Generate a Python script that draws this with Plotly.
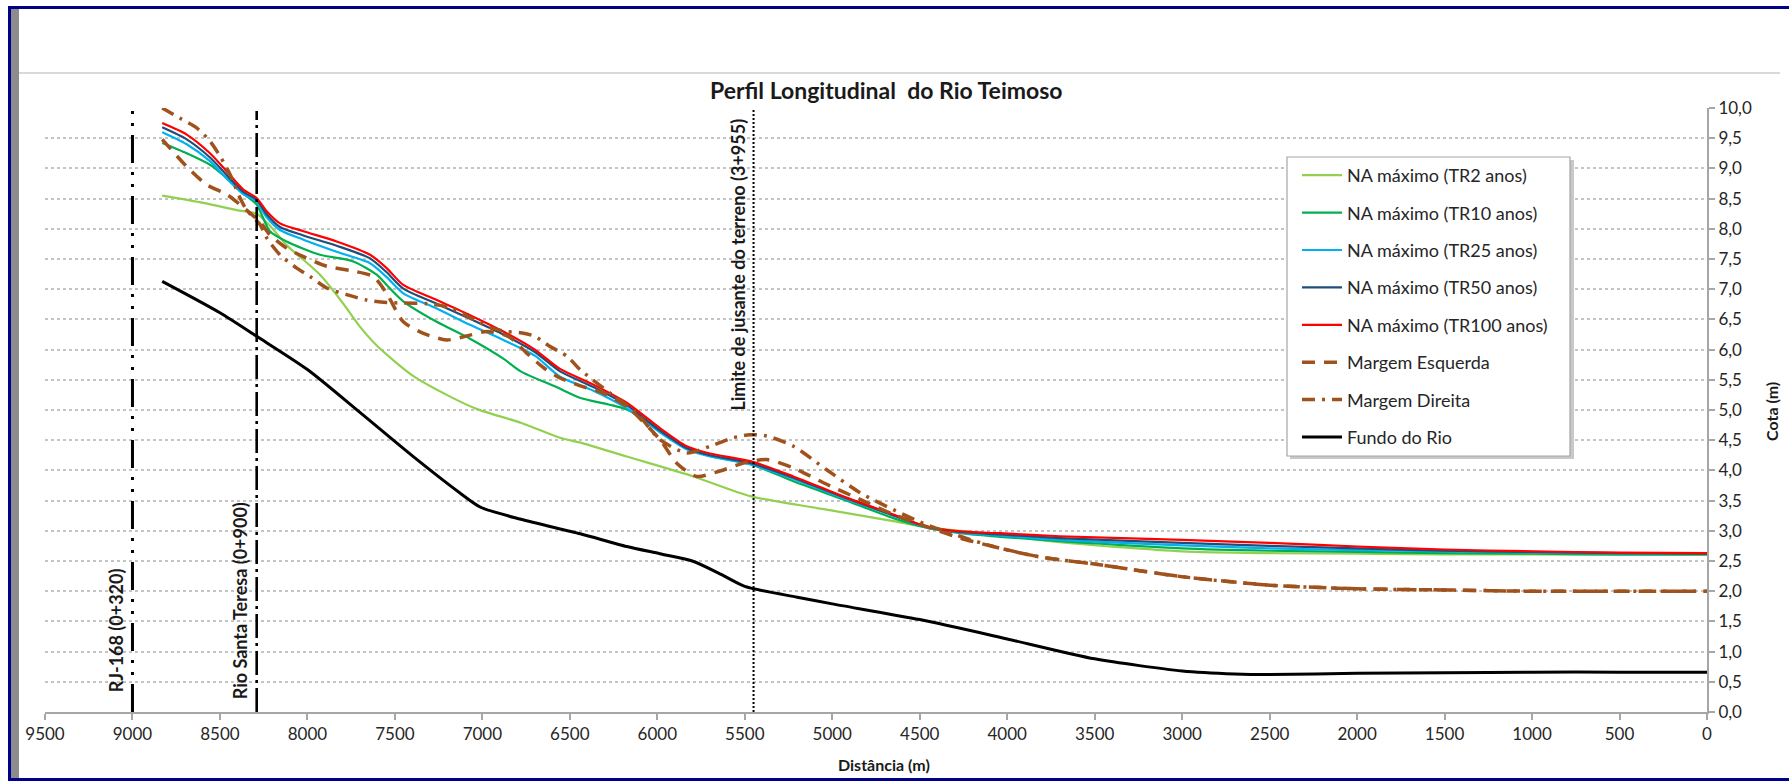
import plotly.graph_objects as go

# ---------------- data (distância em m, cota em m) ----------------
dist_fundo = [8830, 8500, 8290, 8000, 7700, 7400, 7130, 7010, 6780, 6440, 6175, 5985,
              5800, 5650, 5500, 5200, 5000, 4500, 4000, 3500, 3000, 2700, 2500,
              2000, 1500, 1000, 500, 0]
cota_fundo = [7.13, 6.61, 6.22, 5.67, 4.96, 4.24, 3.63, 3.39, 3.19, 2.95, 2.74, 2.62,
              2.50, 2.30, 2.08, 1.90, 1.79, 1.53, 1.21, 0.88, 0.68, 0.63, 0.62,
              0.64, 0.65, 0.66, 0.66, 0.66]

dist_tr = [8830, 8690, 8557, 8461, 8366, 8290, 8233, 8157, 8023, 7833, 7642, 7547, 7452,
           7261, 7071, 6880, 6700, 6556, 6365, 6175, 5985, 5832, 5699, 5464, 5222, 4937,
           4651, 4461, 4270, 4041, 3700, 3000, 2500, 2000, 1500, 1000, 500, 0]
cota_tr100 = [9.75, 9.56, 9.25, 8.95, 8.65, 8.51, 8.29, 8.09, 7.96, 7.79, 7.57, 7.35, 7.07,
              6.82, 6.57, 6.30, 6.00, 5.68, 5.42, 5.12, 4.70, 4.40, 4.28, 4.15, 3.90, 3.57,
              3.27, 3.07, 2.99, 2.96, 2.91, 2.85, 2.80, 2.74, 2.69, 2.66, 2.64, 2.63]
cota_tr50 = [9.68, 9.48, 9.18, 8.89, 8.61, 8.48, 8.24, 8.03, 7.89, 7.72, 7.51, 7.28, 7.01,
             6.76, 6.51, 6.25, 5.96, 5.64, 5.38, 5.08, 4.66, 4.37, 4.25, 4.12, 3.88, 3.56,
             3.26, 3.07, 2.98, 2.94, 2.88, 2.80, 2.75, 2.71, 2.67, 2.65, 2.63, 2.62]
cota_tr25 = [9.60, 9.40, 9.12, 8.83, 8.57, 8.45, 8.19, 7.98, 7.82, 7.62, 7.43, 7.20, 6.93,
             6.68, 6.41, 6.16, 5.90, 5.55, 5.32, 5.03, 4.63, 4.35, 4.23, 4.10, 3.86, 3.54,
             3.25, 3.06, 2.97, 2.92, 2.85, 2.76, 2.71, 2.68, 2.66, 2.64, 2.62, 2.62]

dist_tr10 = [8830, 8690, 8557, 8461, 8347, 8290, 8214, 8119, 7928, 7738, 7604, 7547, 7452,
             7261, 7071, 6880, 6781, 6577, 6439, 6175, 5985, 5832, 5699, 5464, 5222, 4937,
             4651, 4461, 4270, 4041, 3700, 3000, 2500, 2000, 1500, 1000, 500, 0]
cota_tr10 = [9.42, 9.25, 9.06, 8.84, 8.54, 8.40, 7.96, 7.79, 7.57, 7.46, 7.24, 7.07, 6.80,
             6.46, 6.18, 5.85, 5.64, 5.38, 5.20, 5.01, 4.68, 4.37, 4.24, 4.10, 3.82, 3.52,
             3.21, 3.05, 2.96, 2.90, 2.83, 2.71, 2.67, 2.65, 2.63, 2.62, 2.61, 2.61]

dist_tr2 = [8830, 8595, 8404, 8290, 8214, 8119, 7928, 7800, 7700, 7598, 7394, 7190, 7026,
            6781, 6556, 6439, 6175, 5794, 5464, 5032, 4651, 4461, 4000, 3700, 3000, 2500,
            2000, 1500, 1000, 500, 0]
cota_tr2 = [8.55, 8.43, 8.31, 8.25, 8.05, 7.73, 7.24, 6.78, 6.38, 6.05, 5.56, 5.23, 5.01,
            4.79, 4.54, 4.46, 4.23, 3.90, 3.57, 3.35, 3.16, 3.06, 2.92, 2.81, 2.66, 2.63,
            2.62, 2.61, 2.61, 2.60, 2.60]

dist_esq = [8830, 8690, 8576, 8461, 8385, 8328, 8271, 8214, 8119, 8023, 7890, 7738, 7623,
            7547, 7452, 7337, 7204, 7071, 6975, 6850, 6750, 6650, 6556, 6440, 6308, 6175,
            5985, 5889, 5775, 5642, 5508, 5375, 5222, 5032, 4841, 4651, 4461, 4270, 4080,
            3800, 3500, 3000, 2500, 2000, 1500, 1000, 500, 0]
cota_esq = [9.48, 9.03, 8.73, 8.57, 8.40, 8.26, 8.12, 7.90, 7.68, 7.54, 7.38, 7.30, 7.21,
            6.93, 6.46, 6.27, 6.16, 6.24, 6.30, 6.22, 5.95, 5.70, 5.53, 5.40, 5.28, 5.06,
            4.51, 4.12, 3.90, 3.99, 4.12, 4.18, 4.04, 3.77, 3.52, 3.27, 3.07, 2.88, 2.74,
            2.56, 2.45, 2.24, 2.10, 2.04, 2.02, 2.00, 2.00, 2.00]

dist_dir = [8830, 8728, 8633, 8557, 8499, 8442, 8385, 8347, 8271, 8233, 8157, 8061, 7985,
            7890, 7776, 7661, 7547, 7452, 7315, 7190, 7050, 6950, 6863, 6781, 6700, 6618,
            6516, 6442, 6270, 6118, 5985, 5832, 5699, 5565, 5470, 5375, 5222, 5032, 4841,
            4651, 4461, 4270, 4080, 3800, 3500, 3000, 2500, 2000, 1500, 1000, 500, 0]
cota_dir = [10.0, 9.83, 9.67, 9.45, 9.20, 8.90, 8.51, 8.31, 8.07, 7.85, 7.57, 7.35, 7.21,
            7.02, 6.91, 6.82, 6.78, 6.77, 6.76, 6.70, 6.50, 6.36, 6.30, 6.28, 6.22, 6.06,
            5.89, 5.67, 5.28, 4.95, 4.51, 4.29, 4.40, 4.54, 4.59, 4.57, 4.40, 4.01, 3.63,
            3.35, 3.10, 2.91, 2.74, 2.56, 2.45, 2.24, 2.10, 2.04, 2.02, 2.00, 2.00, 2.00]

# marcos ao longo do rio
marco_dist = [9000, 8290, 5450]
marco_topo = [9.95, 9.95, 10.0]
marco_nome = ["RJ-168 (0+320)", "Rio Santa Teresa (0+900)",
              "Limite de jusante do terreno (3+955)"]

x_ticks = list(range(0, 10000, 500))
y_ticks = [i * 0.5 for i in range(21)]

# ---------------- layout geometry ----------------
W, H = 1789, 783
ML, MR, MT, MB = 45, 82, 108, 71
PW = W - ML - MR
PH = H - MT - MB


def px_x(px):
    return (px - ML) / PW


def px_y(py):
    return (H - MB - py) / PH


FONT = "Lato, 'Open Sans', sans-serif"
NAVY = "#00008B"
BROWN = "#A0521C"
TXT = "#1a1a1a"

fig = go.Figure()

series = [
    ("NA máximo (TR2 anos)", dist_tr2, cota_tr2, dict(color="#92D050", width=2.2)),
    ("NA máximo (TR10 anos)", dist_tr10, cota_tr10, dict(color="#00B050", width=2.2)),
    ("NA máximo (TR25 anos)", dist_tr, cota_tr25, dict(color="#00B0F0", width=2.2)),
    ("NA máximo (TR50 anos)", dist_tr, cota_tr50, dict(color="#1F4E79", width=2.2)),
    ("NA máximo (TR100 anos)", dist_tr, cota_tr100, dict(color="#FF0000", width=2.2)),
    ("Margem Esquerda", dist_esq, cota_esq, dict(color=BROWN, width=3.5, dash="13px,9px")),
    ("Margem Direita", dist_dir, cota_dir,
     dict(color=BROWN, width=3.5, dash="13px,7px,3px,7px")),
    ("Fundo do Rio", dist_fundo, cota_fundo, dict(color="black", width=3)),
]

for i, (name, xs, ys, line) in enumerate(series):
    fig.add_trace(go.Scatter(
        x=xs, y=ys, name=name, mode="lines",
        line=dict(shape="spline", smoothing=0.7, **line),
        legendgroup=f"g{i}", hoverinfo="skip",
    ))

# linhas verticais dos marcos
marco_dash = ["28px,9px,3px,9px,3px,9px", "24px,5px,3px,5px", "2px,2px"]
marco_width = [3, 2.6, 2]
for xd, top, dash, wd in zip(marco_dist, marco_topo, marco_dash, marco_width):
    fig.add_trace(go.Scatter(
        x=[xd, xd], y=[0, top], mode="lines", showlegend=False, hoverinfo="skip",
        line=dict(color="black", width=wd, dash=dash),
    ))

annotations = [
    dict(text="<b>Perfil Longitudinal\u00a0 do Rio Teimoso</b>", xref="paper", yref="paper",
         x=px_x(886), y=px_y(90), showarrow=False, font=dict(size=23, color=TXT),
         xanchor="center", yanchor="middle"),
    dict(text="<b>Distância (m)</b>", xref="paper", yref="paper",
         x=px_x(884), y=px_y(764), showarrow=False, font=dict(size=16, color=TXT),
         xanchor="center", yanchor="middle"),
    dict(text="<b>Cota (m)</b>", xref="paper", yref="paper", textangle=-90,
         x=px_x(1771), y=px_y(412), showarrow=False, font=dict(size=16, color=TXT),
         xanchor="center", yanchor="middle"),
    dict(text=f"<b>{marco_nome[0]}</b>", x=marco_dist[0], y=0.3, xref="x", yref="y",
         textangle=-90, showarrow=False, xanchor="center", yanchor="bottom", xshift=-17,
         font=dict(size=18, color=TXT)),
    dict(text=f"<b>{marco_nome[1]}</b>", x=marco_dist[1], y=0.18, xref="x", yref="y",
         textangle=-90, showarrow=False, xanchor="center", yanchor="bottom", xshift=-17,
         font=dict(size=18, color=TXT)),
    dict(text=f"<b>{marco_nome[2]}</b>", x=marco_dist[2], y=9.85, xref="x", yref="y",
         textangle=-90, showarrow=False, xanchor="center", yanchor="top", xshift=-15,
         font=dict(size=18, color=TXT)),
]

shapes = [
    # moldura
    dict(type="rect", xref="paper", yref="paper", x0=px_x(8), x1=px_x(W + 2),
         y0=px_y(9), y1=px_y(6), fillcolor=NAVY, line=dict(width=0), layer="above"),
    dict(type="rect", xref="paper", yref="paper", x0=px_x(8), x1=px_x(W + 2),
         y0=px_y(781), y1=px_y(778), fillcolor=NAVY, line=dict(width=0), layer="above"),
    dict(type="rect", xref="paper", yref="paper", x0=px_x(8), x1=px_x(11),
         y0=px_y(781), y1=px_y(6), fillcolor=NAVY, line=dict(width=0), layer="above"),
    dict(type="rect", xref="paper", yref="paper", x0=px_x(11), x1=px_x(19),
         y0=px_y(778), y1=px_y(9), fillcolor="#8c8c8c", line=dict(width=0), layer="above"),
    dict(type="line", xref="paper", yref="paper", x0=px_x(19), x1=px_x(1780),
         y0=px_y(73), y1=px_y(73), line=dict(color="#d9d9d9", width=2), layer="above"),
    # caixa da legenda com sombra
    dict(type="rect", xref="paper", yref="paper", x0=px_x(1290), x1=px_x(1574),
         y0=px_y(459), y1=px_y(160), fillcolor="#c8c8c8", line=dict(width=0), layer="above"),
    dict(type="rect", xref="paper", yref="paper", x0=px_x(1287), x1=px_x(1570),
         y0=px_y(456), y1=px_y(157), fillcolor="white",
         line=dict(color="#a6a6a6", width=1.2), layer="above"),
]

fig.update_layout(
    width=W, height=H,
    margin=dict(l=ML, r=MR, t=MT, b=MB),
    paper_bgcolor="white", plot_bgcolor="white",
    font=dict(family=FONT, size=17, color="#262626"),
    separators=",.",
    showlegend=True,
    legend=dict(
        x=px_x(1297), y=px_y(157), xanchor="left", yanchor="top",
        bgcolor="rgba(0,0,0,0)", borderwidth=0, tracegroupgap=11,
        itemwidth=40, font=dict(size=18, color="#262626"),
    ),
    annotations=annotations,
    shapes=shapes,
    xaxis=dict(
        range=[9500, 0], tickvals=x_ticks, tickformat="d",
        showgrid=False, zeroline=False, showline=True, linecolor="#a6a6a6", linewidth=2,
        ticks="outside", ticklen=6, tickcolor="#a6a6a6", tickwidth=1.5,
        tickfont=dict(size=17), fixedrange=True,
    ),
    yaxis=dict(
        range=[0, 10], tickvals=y_ticks, tickformat=".1f", side="right",
        showgrid=True, gridcolor="#c4c4c4", gridwidth=1.5, griddash="3px,3px",
        zeroline=False, showline=True, linecolor="#a6a6a6", linewidth=2,
        ticks="outside", ticklen=6, tickcolor="#a6a6a6", tickwidth=1.5,
        tickfont=dict(size=17), fixedrange=True,
    ),
)

fig.write_html("out.html")
